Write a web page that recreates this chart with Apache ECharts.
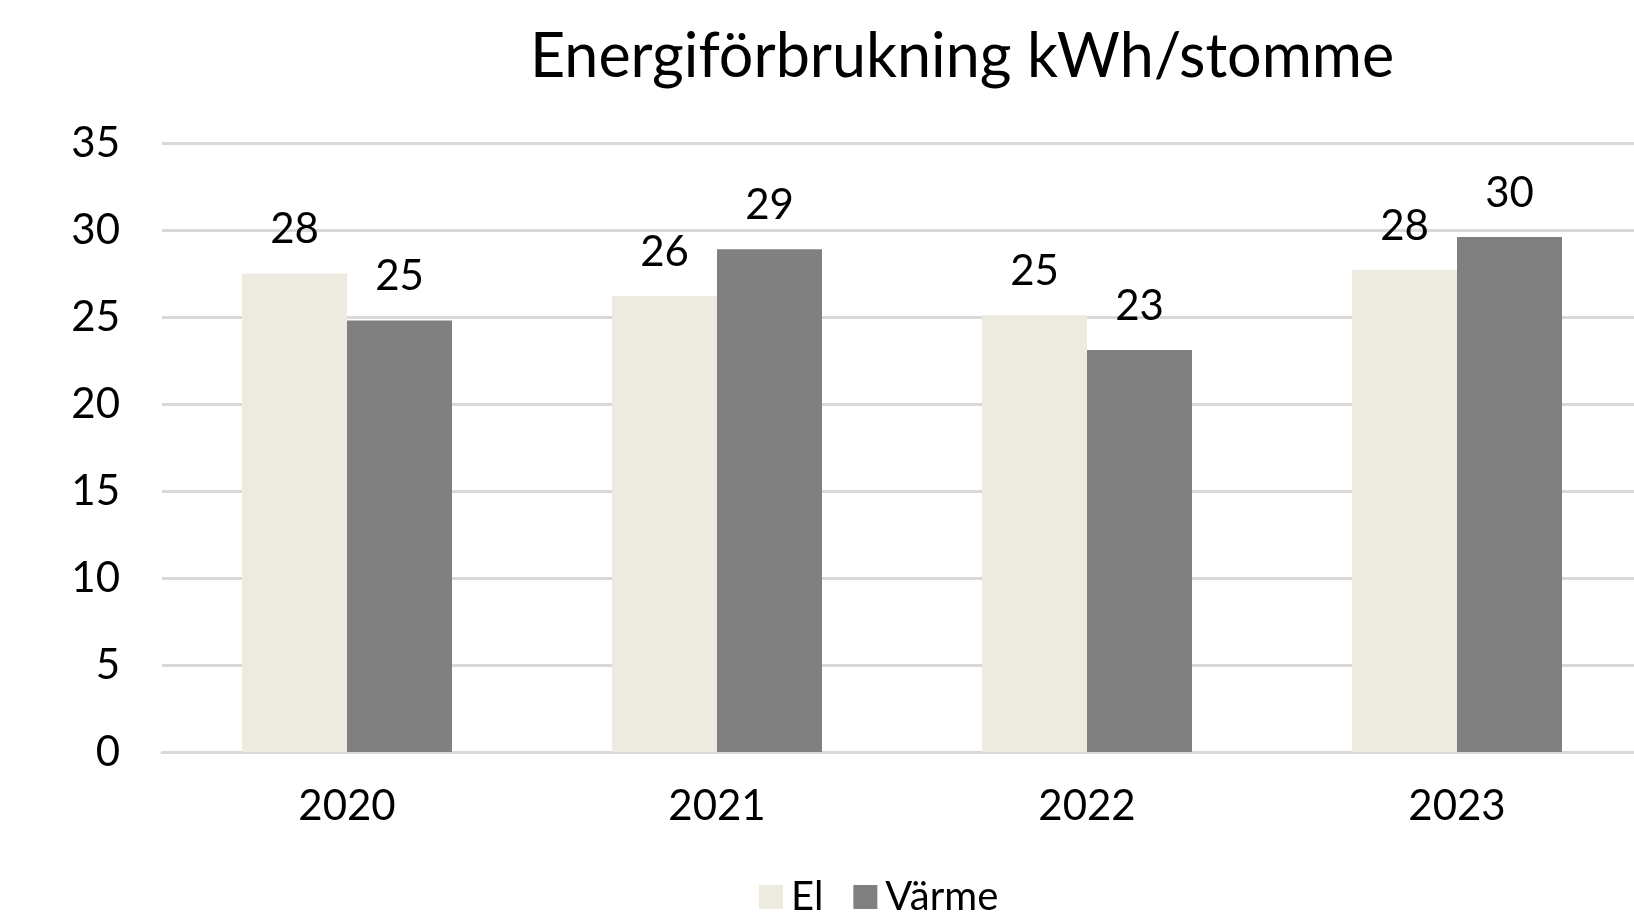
<!DOCTYPE html>
<html>
<head>
<meta charset="utf-8">
<script src="https://cdn.jsdelivr.net/npm/echarts@6/dist/echarts.min.js"></script>
<style>
  html, body { margin: 0; padding: 0; background: #fff; overflow: hidden; }
  #chart { width: 1660px; height: 922px; }
</style>
</head>
<body>
<div id="chart"></div>
<script>
// data
const years = ["2020", "2021", "2022", "2023"];
const elValues = [27.5, 26.2, 25.1, 27.7];
const varmeValues = [24.8, 28.9, 23.1, 29.6];
const yTicks = { min: 0, max: 35, interval: 5 };

const FONT = "Lato";

// chart is a bit wider than the window: the plot runs off the right edge, like the original
var chart = echarts.init(document.getElementById("chart"));

function barLabel() {
    return {
        show: true, position: "top", distance: 23,
        fontFamily: FONT, fontSize: 42, color: "#000",
        formatter: function(p) { return Math.round(p.value); },
    };
}

chart.setOption({
    animation: false,
    title: {
        text: "Energiförbrukning kWh/stomme",
        left: 525, top: 22,
        textStyle: { fontFamily: FONT, fontSize: 61, fontWeight: "normal", color: "#000" },
    },
    legend: {
        data: ["El", "Värme"],
        left: 754, top: 872,
        icon: "rect", itemWidth: 24, itemHeight: 24, itemGap: 30,
        textStyle: { fontFamily: FONT, fontSize: 40, color: "#000", padding: [0, 0, 0, 3] },
    },
    grid: { left: 162, right: 18, top: 143, bottom: 170, containLabel: false },
    xAxis: {
        type: "category", data: years,
        axisLine: { show: true, lineStyle: { color: "#d9d9d9", width: 3 } },
        axisTick: { show: false },
        axisLabel: { fontFamily: FONT, fontSize: 42, color: "#000", margin: 33 },
    },
    yAxis: {
        type: "value", min: yTicks.min, max: yTicks.max, interval: yTicks.interval,
        axisLine: { show: false }, axisTick: { show: false },
        splitLine: { lineStyle: { color: "#d9d9d9", width: 3 } },
        axisLabel: { fontFamily: FONT, fontSize: 42, color: "#000", margin: 42 },
    },
    series: [
        { name: "El", type: "bar", data: elValues, barWidth: 105, barGap: "0%",
          itemStyle: { color: "#edebe0" }, label: barLabel() },
        { name: "Värme", type: "bar", data: varmeValues, barWidth: 105, barGap: "0%",
          itemStyle: { color: "#808080" }, label: barLabel() },
    ],
});
</script>
</body>
</html>
